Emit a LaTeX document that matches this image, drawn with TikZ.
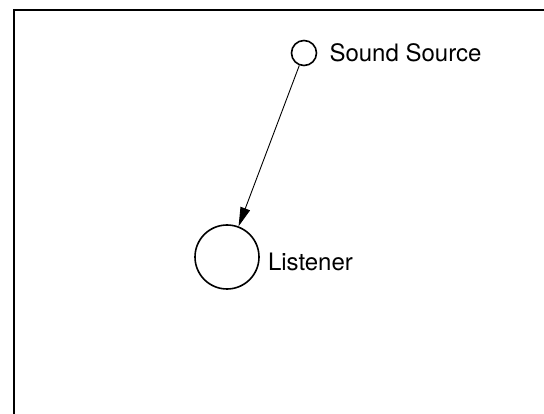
\documentclass[tikz,border=0pt]{standalone}
\usepackage{fontspec}
\setmainfont{TeX Gyre Heros}
\usepackage{tikz}
\usetikzlibrary{arrows.meta, positioning}

\begin{document}
\begin{tikzpicture}[x=1pt, y=-1pt,
        node distance = 1cm and 1cm,
        emitter/.style = {draw, circle, line width=1.6pt, minimum size=25pt, inner sep=0pt},
        hearer/.style = {draw, circle, line width=1.6pt, minimum size=64pt, inner sep=0pt},
        tag/.style = {inner sep=0pt, font=\fontsize{24}{27}\selectfont},
    ]
    \useasboundingbox (0,0) rectangle (544,414);
    \draw[line width=1.4pt] (14,414) -- (14,10) -- (544,10);
    %
    \node[emitter]                                  (source) at (304,53) {};
    \node[tag, right=12pt of source]                (source_tag) {Sound Source};
    \node[hearer]                                   (listener) at (227,257) {};
    \node[tag, right=8pt of listener, yshift=-5pt]  (listener_tag) {Listener};
    %
    \draw[-{Triangle[length=19pt, width=10pt]}, line width=0.9pt] (source) -- (listener);
    %
\end{tikzpicture}
\end{document}
